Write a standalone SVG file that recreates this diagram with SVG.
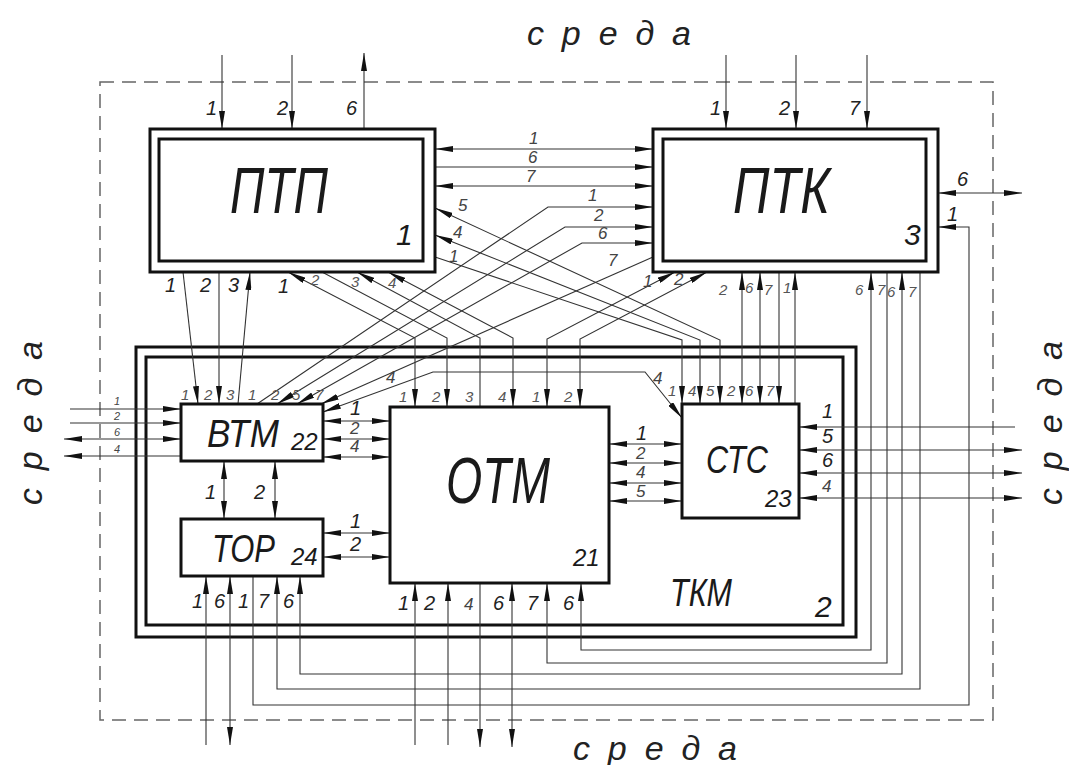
<svg xmlns="http://www.w3.org/2000/svg" width="1069" height="765" viewBox="0 0 1069 765">
<style>
.box{fill:#fff;stroke:#111;stroke-width:3}
.frame{fill:none;stroke:#111;stroke-width:3}
.c{fill:none;stroke:#333;stroke-width:1.1}
.t{font-family:"Liberation Sans",sans-serif;font-style:italic;fill:#1a1a1a}
.big{font-size:64px}
.mid{font-size:38px}
.num{font-size:30px}
.n{font-size:24px}
.l{font-size:20px;fill:#222}
.m{font-size:17px;fill:#444}
.s{font-size:15px;fill:#555}
.xs{font-size:11px;fill:#444}
.env{font-size:34px;fill:#222}
</style>
<defs>
<marker id="a" viewBox="0 0 18 6" refX="18" refY="3" markerWidth="18" markerHeight="6" markerUnits="userSpaceOnUse" orient="auto-start-reverse"><path d="M0,0 L18,3 L0,6 z" fill="#111"/></marker>
</defs>
<rect width="1069" height="765" fill="#fff"/>
<rect id="env-border" x="100" y="82" width="893" height="638" fill="none" stroke="#666" stroke-width="1.5" stroke-dasharray="14,8"/>
<g id="env-labels" class="t env">
<text x="527" y="45" textLength="164" lengthAdjust="spacing">с р е д а</text>
<text x="573" y="760" textLength="164" lengthAdjust="spacing">с р е д а</text>
<text transform="translate(42,505) rotate(-90)" textLength="164" lengthAdjust="spacing">с р е д а</text>
<text transform="translate(1062,505) rotate(-90)" textLength="164" lengthAdjust="spacing">с р е д а</text>
</g>
<g id="tkm">
<rect class="frame" x="136" y="347" width="720" height="290"/>
<rect class="frame" x="146" y="357" width="697" height="268"/>
<text class="t mid" x="670" y="606" textLength="62" lengthAdjust="spacingAndGlyphs">ТКМ</text>
<text class="t num" x="815" y="617">2</text>
</g>
<g id="connectors" class="c">
<path d="M222,55 V129" marker-end="url(#a)"/>
<path d="M292,55 V129" marker-end="url(#a)"/>
<path d="M364,129 V53" marker-end="url(#a)"/>
<path d="M726,55 V129" marker-end="url(#a)"/>
<path d="M796,55 V129" marker-end="url(#a)"/>
<path d="M867,55 V129" marker-end="url(#a)"/>
<path d="M435,149 H653" marker-start="url(#a)" marker-end="url(#a)"/>
<path d="M435,167 H653" marker-end="url(#a)"/>
<path d="M435,186 H653" marker-start="url(#a)" marker-end="url(#a)"/>
<path d="M257,404 L548,207 H653" marker-end="url(#a)"/>
<path d="M277,404 L565,227 H653" marker-start="url(#a)" marker-end="url(#a)"/>
<path d="M297,404 L582,243 H653" marker-start="url(#a)" marker-end="url(#a)"/>
<path d="M321,404 L653,257" marker-start="url(#a)"/>
<path d="M323,412 L433,372 H645 L682,418" marker-start="url(#a)" marker-end="url(#a)"/>
<path d="M435,208 L720,340 V404" marker-start="url(#a)" marker-end="url(#a)"/>
<path d="M435,235 L700,340 V404" marker-start="url(#a)" marker-end="url(#a)"/>
<path d="M435,257 L682,340 V404" marker-end="url(#a)"/>
<path d="M288,272 L415,338 V407" marker-start="url(#a)" marker-end="url(#a)"/>
<path d="M322,272 L447,338 V407" marker-end="url(#a)"/>
<path d="M357,272 L480,338 V407" marker-start="url(#a)"/>
<path d="M388,272 L513,338 V407" marker-start="url(#a)" marker-end="url(#a)"/>
<path d="M547,407 V339 L675,272" marker-start="url(#a)" marker-end="url(#a)"/>
<path d="M580,407 V339 L707,272" marker-start="url(#a)" marker-end="url(#a)"/>
<path d="M183,272 L198,404" marker-end="url(#a)"/>
<path d="M219,272 V404" marker-end="url(#a)"/>
<path d="M238,404 L250,272" marker-end="url(#a)"/>
<path d="M742,404 V272" marker-start="url(#a)" marker-end="url(#a)"/>
<path d="M760,404 V272" marker-start="url(#a)" marker-end="url(#a)"/>
<path d="M779,272 V404" marker-end="url(#a)"/>
<path d="M795,404 V272" marker-end="url(#a)"/>
<path d="M938,193 H1022" marker-start="url(#a)" marker-end="url(#a)"/>
<path d="M253,576 V705 H969 V227 H938" marker-end="url(#a)"/>
<path d="M70,409 H181" marker-end="url(#a)"/>
<path d="M70,423 H181" marker-end="url(#a)"/>
<path d="M64,439 H181" marker-start="url(#a)" marker-end="url(#a)"/>
<path d="M181,456 H64" marker-end="url(#a)"/>
<path d="M323,421 H390" marker-start="url(#a)" marker-end="url(#a)"/>
<path d="M323,439 H390" marker-start="url(#a)" marker-end="url(#a)"/>
<path d="M323,457 H390" marker-start="url(#a)" marker-end="url(#a)"/>
<path d="M224,461 V519" marker-start="url(#a)" marker-end="url(#a)"/>
<path d="M275,461 V519" marker-start="url(#a)" marker-end="url(#a)"/>
<path d="M323,533 H390" marker-start="url(#a)" marker-end="url(#a)"/>
<path d="M323,557 H390" marker-start="url(#a)" marker-end="url(#a)"/>
<path d="M609,444 H682" marker-start="url(#a)" marker-end="url(#a)"/>
<path d="M609,463 H682" marker-start="url(#a)" marker-end="url(#a)"/>
<path d="M609,483 H682" marker-start="url(#a)" marker-end="url(#a)"/>
<path d="M609,501 H682" marker-start="url(#a)" marker-end="url(#a)"/>
<path d="M1015,427 H799" marker-end="url(#a)"/>
<path d="M1022,450 H799" marker-start="url(#a)" marker-end="url(#a)"/>
<path d="M1022,473 H799" marker-start="url(#a)" marker-end="url(#a)"/>
<path d="M1022,498 H799" marker-start="url(#a)" marker-end="url(#a)"/>
<path d="M206,745 V576" marker-end="url(#a)"/>
<path d="M230,745 V576" marker-start="url(#a)" marker-end="url(#a)"/>
<path d="M920,272 V689 H277 V576" marker-end="url(#a)"/>
<path d="M902,272 V674 H300 V576" marker-start="url(#a)" marker-end="url(#a)"/>
<path d="M415,745 V583" marker-end="url(#a)"/>
<path d="M448,745 V583" marker-end="url(#a)"/>
<path d="M480,583 V747" marker-end="url(#a)"/>
<path d="M512,747 V583" marker-start="url(#a)" marker-end="url(#a)"/>
<path d="M887,272 V663 H547 V583" marker-end="url(#a)"/>
<path d="M871,272 V650 H581 V583" marker-start="url(#a)" marker-end="url(#a)"/>
</g>
<g id="connector-labels" class="t">
<text class="l" x="206" y="115">1</text>
<text class="l" x="277" y="115">2</text>
<text class="l" x="346" y="115">6</text>
<text class="l" x="710" y="115">1</text>
<text class="l" x="779" y="115">2</text>
<text class="l" x="849" y="115">7</text>
<text class="m" x="529" y="144">1</text>
<text class="m" x="528" y="163">6</text>
<text class="m" x="526" y="182">7</text>
<text class="m" x="588" y="201">1</text>
<text class="m" x="594" y="221">2</text>
<text class="m" x="598" y="239">6</text>
<text class="m" x="608" y="266">7</text>
<text class="m" x="458" y="211">5</text>
<text class="m" x="453" y="238">4</text>
<text class="m" x="449" y="262">1</text>
<text class="l" x="957" y="186">6</text>
<text class="l" x="947" y="221">1</text>
<text class="l" x="165" y="292">1</text>
<text class="l" x="200" y="292">2</text>
<text class="l" x="228" y="292">3</text>
<text class="l" x="278" y="293">1</text>
<text class="s" x="311" y="285">2</text>
<text class="s" x="351" y="287">3</text>
<text class="s" x="388" y="288">4</text>
<text class="m" x="643" y="287">1</text>
<text class="m" x="674" y="285">2</text>
<text class="s" x="719" y="295">2</text>
<text class="s" x="745" y="293">6</text>
<text class="s" x="764" y="295">7</text>
<text class="s" x="783" y="293">1</text>
<text class="s" x="855" y="295">6</text>
<text class="s" x="877" y="295">7</text>
<text class="s" x="887" y="297">6</text>
<text class="s" x="908" y="297">7</text>
<text class="s" x="181" y="400">1</text>
<text class="s" x="204" y="400">2</text>
<text class="s" x="226" y="400">3</text>
<text class="s" x="248" y="400">1</text>
<text class="s" x="271" y="400">2</text>
<text class="s" x="292" y="400">5</text>
<text class="s" x="315" y="400">7</text>
<text class="m" x="386" y="383">4</text>
<text class="m" x="653" y="384">4</text>
<text class="s" x="399" y="402">1</text>
<text class="s" x="432" y="402">2</text>
<text class="s" x="465" y="402">3</text>
<text class="s" x="498" y="402">4</text>
<text class="s" x="532" y="402">1</text>
<text class="s" x="564" y="402">2</text>
<text class="s" x="668" y="396">1</text>
<text class="s" x="688" y="396">4</text>
<text class="s" x="706" y="396">5</text>
<text class="s" x="727" y="396">2</text>
<text class="s" x="745" y="396">6</text>
<text class="s" x="766" y="396">7</text>
<text class="xs" x="114" y="405">1</text>
<text class="xs" x="114" y="420">2</text>
<text class="xs" x="114" y="436">6</text>
<text class="xs" x="114" y="453">4</text>
<text class="l" x="350" y="415">1</text>
<text class="m" x="350" y="434">2</text>
<text class="m" x="350" y="452">4</text>
<text class="l" x="205" y="499">1</text>
<text class="l" x="254" y="499">2</text>
<text class="l" x="350" y="528">1</text>
<text class="l" x="350" y="551">2</text>
<text class="l" x="636" y="440">1</text>
<text class="m" x="636" y="459">2</text>
<text class="m" x="636" y="478">4</text>
<text class="m" x="636" y="497">5</text>
<text class="l" x="822" y="418">1</text>
<text class="l" x="822" y="443">5</text>
<text class="l" x="822" y="467">6</text>
<text class="m" x="822" y="492">4</text>
<text class="l" x="192" y="608">1</text>
<text class="l" x="214" y="608">6</text>
<text class="l" x="238" y="608">1</text>
<text class="l" x="258" y="608">7</text>
<text class="l" x="283" y="608">6</text>
<text class="l" x="398" y="610">1</text>
<text class="l" x="424" y="610">2</text>
<text class="m" x="464" y="610">4</text>
<text class="l" x="493" y="610">6</text>
<text class="l" x="527" y="610">7</text>
<text class="l" x="563" y="610">6</text>
</g>
<g id="ptp">
<rect class="box" x="150" y="129" width="285" height="143"/>
<rect class="frame" x="159" y="139" width="264" height="122"/>
<text class="t big" x="230" y="213" textLength="98" lengthAdjust="spacingAndGlyphs">ПТП</text>
<text class="t num" x="396" y="245">1</text>
</g>
<g id="ptk">
<rect class="box" x="653" y="129" width="285" height="143"/>
<rect class="frame" x="663" y="139" width="263" height="122"/>
<text class="t big" x="733" y="213" textLength="97" lengthAdjust="spacingAndGlyphs">ПТК</text>
<text class="t num" x="904" y="245">3</text>
</g>
<g id="btm">
<rect class="box" x="181" y="404" width="142" height="57"/>
<text class="t mid" x="207" y="447" textLength="72" lengthAdjust="spacingAndGlyphs">ВТМ</text>
<text class="t n" x="291" y="450">22</text>
</g>
<g id="tor">
<rect class="box" x="181" y="519" width="142" height="57"/>
<text class="t mid" x="212" y="562" textLength="63" lengthAdjust="spacingAndGlyphs">ТОР</text>
<text class="t n" x="291" y="565">24</text>
</g>
<g id="otm">
<rect class="box" x="390" y="407" width="219" height="176"/>
<text class="t big" x="446" y="503" textLength="104" lengthAdjust="spacingAndGlyphs">ОТМ</text>
<text class="t n" x="573" y="566">21</text>
</g>
<g id="ctc">
<rect class="box" x="682" y="404" width="117" height="114"/>
<text class="t mid" x="706" y="473" textLength="62" lengthAdjust="spacingAndGlyphs">СТС</text>
<text class="t n" x="765" y="507">23</text>
</g>
</svg>
